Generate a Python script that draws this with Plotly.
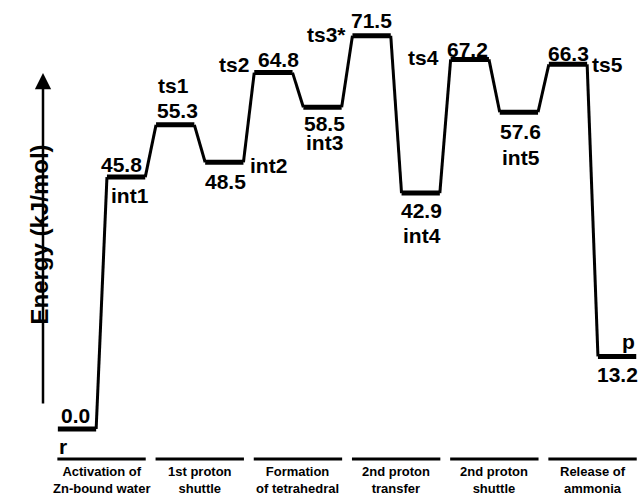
import plotly.graph_objects as go

# ---- data ----
states = ["r", "int1", "ts1", "int2", "ts2", "int3", "ts3*", "int4", "ts4", "int5", "ts5", "p"]
energies = [0.0, 45.8, 55.3, 48.5, 64.8, 58.5, 71.5, 42.9, 67.2, 57.6, 66.3, 13.2]
steps = ["Activation of<br>Zn-bound water", "1st proton<br>shuttle",
         "Formation<br>of tetrahedral<br>intermediate", "2nd proton<br>transfer",
         "2nd proton<br>shuttle", "Release of<br>ammonia"]

# ---- label placement (pixel offsets from each level centre) ----
# (value dx, value dy, name dx, name dy)
placement = [
    (-2, 14, -14, -17),
    (-5, 13, 4, -18),
    (2, 14, -2, 39),
    (1, -19, 44, -3),
    (5, 13, -39, 8),
    (1.5, -16, 1.5, -35),
    (0, 15, -45, 1),
    (1, -17, 1, -42),
    (-2, 10, -46, 2),
    (2, -19, 2, -45),
    (0, 11, 39, 0),
    (0, -18, 11, 15),
]

W, H = 642, 495
X0, SX = 77, 49.1       # pixel of level 0 centre, pixels per level
Y0, SY = 429, 5.5       # pixel of 0 kJ/mol, pixels per kJ/mol


def px(xr):
    return xr / W


def py(yr):
    return 1 - yr / H


HW = 0.39  # half width of a level bar (x units)

lvl_x, lvl_y, con_x, con_y = [], [], [], []
for i, e in enumerate(energies):
    lvl_x += [i - HW, i + HW, None]
    lvl_y += [e, e, None]
    if i + 1 < len(energies):
        con_x += [i + HW, i + 1 - HW, None]
        con_y += [e, energies[i + 1], None]

fig = go.Figure()
fig.add_trace(go.Scatter(x=con_x, y=con_y, mode="lines",
                         line=dict(color="black", width=3), hoverinfo="skip"))
fig.add_trace(go.Scatter(x=lvl_x, y=lvl_y, mode="lines",
                         line=dict(color="black", width=5), hoverinfo="skip"))

LF = dict(family="Liberation Sans, Arial, sans-serif", size=21, color="black", weight="bold")
ann = []
for i, (s, e) in enumerate(zip(states, energies)):
    vdx, vdy, ndx, ndy = placement[i]
    ann.append(dict(x=i, y=e, xref="x", yref="y", text=f"{e:.1f}", showarrow=False,
                    xshift=vdx, yshift=vdy, font=LF))
    ann.append(dict(x=i, y=e, xref="x", yref="y", text=s, showarrow=False,
                    xshift=ndx, yshift=ndy, font=LF))

# step category bars and labels
shapes = []
CF = dict(family="Liberation Sans, Arial, sans-serif", size=13, color="black", weight="bold")
for k, name in enumerate(steps):
    x0, x1 = 2 * k - 0.4, 2 * k + 1.4
    shapes.append(dict(type="line", xref="x", yref="paper", x0=x0, x1=x1,
                       y0=py(459), y1=py(459),
                       line=dict(color="black", width=3)))
    ann.append(dict(x=2 * k + 0.5, y=py(462), xref="x", yref="paper",
                    text=name, showarrow=False, yanchor="top", font=CF))

# energy arrow
ann.append(dict(x=(43 - X0) / SX, y=(Y0 - 73) / SY, ax=(43 - X0) / SX, ay=(Y0 - 405) / SY,
                xref="x", yref="y", axref="x", ayref="y", text="", showarrow=True,
                arrowhead=2, arrowsize=1.3, arrowwidth=2.5, arrowcolor="black"))
ann.append(dict(x=px(24), y=py(235), xref="paper", yref="paper",
                text="Energy (kJ/mol)", textangle=-90, showarrow=False,
                font=dict(family="Liberation Sans, Arial, sans-serif", size=24,
                          color="black", weight="bold")))

fig.update_layout(
    width=W, height=H,
    margin=dict(l=0, r=0, t=0, b=0),
    paper_bgcolor="white", plot_bgcolor="white",
    showlegend=False,
    xaxis=dict(visible=False, range=[-X0 / SX, (W - X0) / SX], fixedrange=True),
    yaxis=dict(visible=False, range=[(Y0 - H) / SY, Y0 / SY], fixedrange=True),
    shapes=shapes, annotations=ann,
)
fig.write_html(
    "out.html",
    config={"displayModeBar": False, "staticPlot": True},
    post_script="document.body.style.margin='0';document.body.style.overflow='hidden';",
)
